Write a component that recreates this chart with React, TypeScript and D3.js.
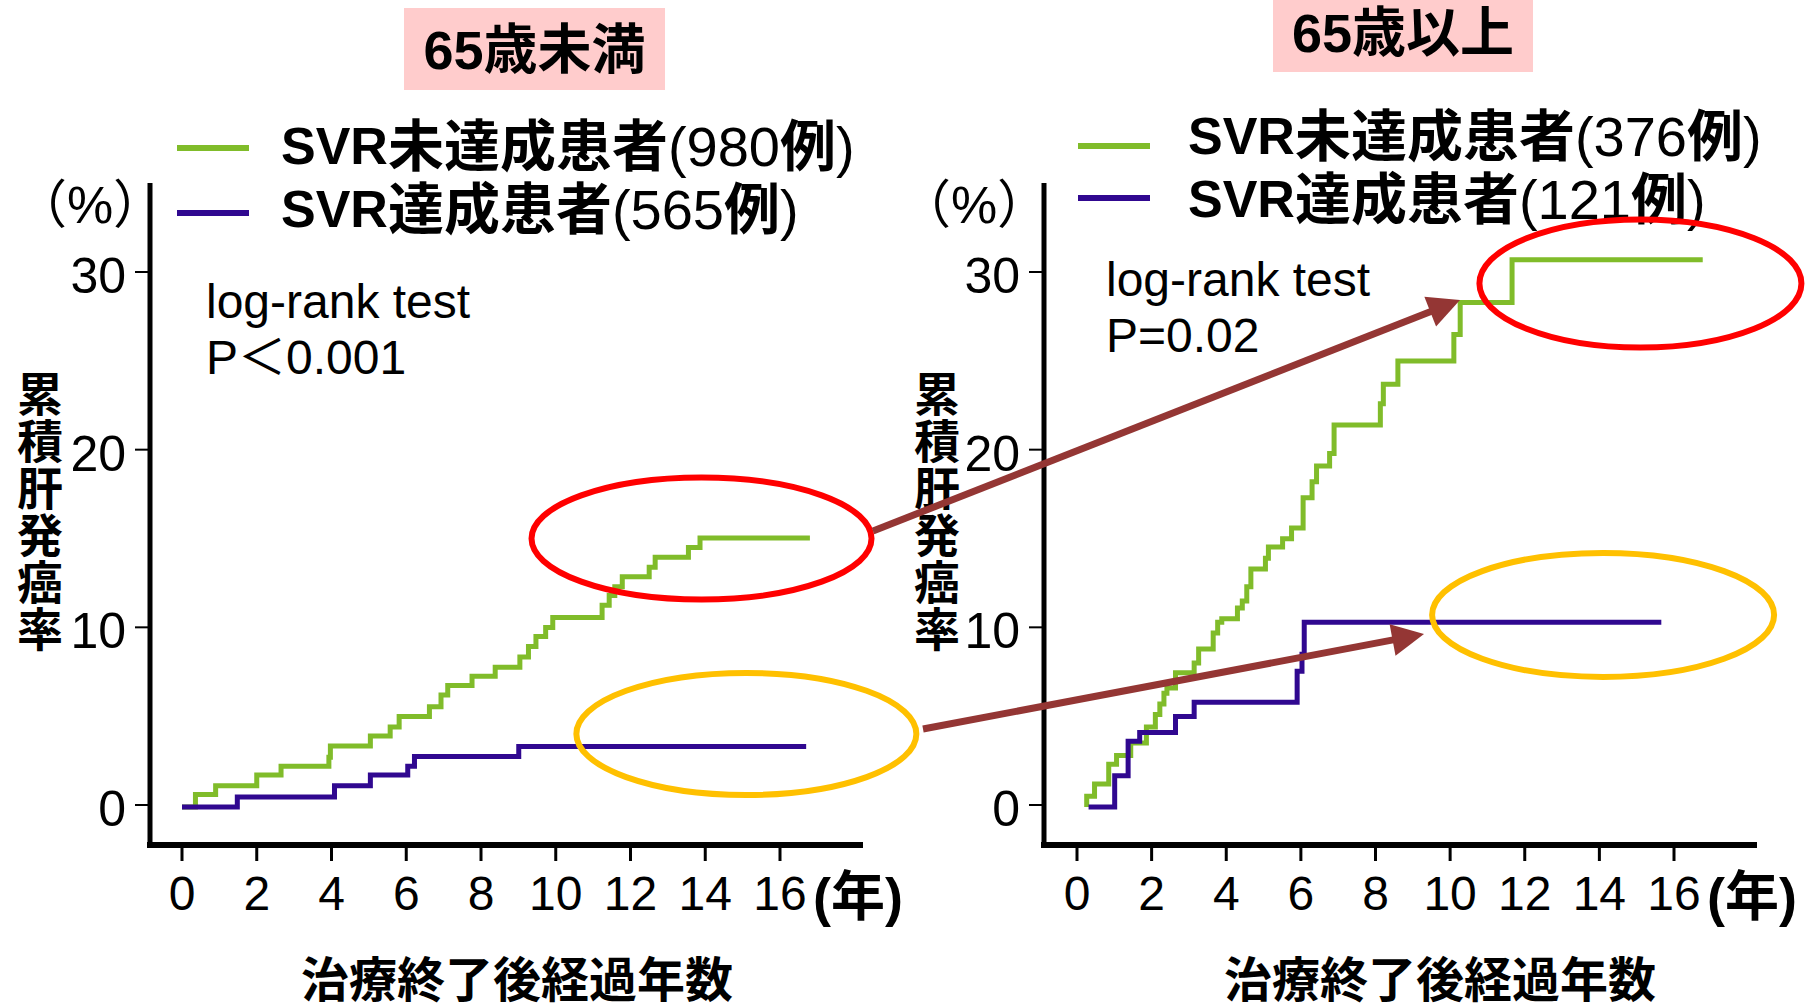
import React from "react";
import * as d3 from "d3";

// ---- data -------------------------------------------------------------
const xTickYears = [0, 2, 4, 6, 8, 10, 12, 14, 16];
const yTickValues = [0, 10, 20, 30];

// cumulative incidence steps: [years after treatment, cumulative %]
const under65NonSvr: [number, number][] = [
  [0, 0], [0.36, 0.7], [0.9, 1.2], [2.0, 1.8], [2.65, 2.3], [3.93, 2.8], [3.97, 3.44],
  [5.04, 4.0], [5.57, 4.5], [5.81, 5.1], [6.62, 5.64], [6.93, 6.3], [7.11, 6.84],
  [7.76, 7.36], [8.38, 7.86], [9.04, 8.44], [9.27, 9.04], [9.47, 9.6], [9.73, 10.1],
  [9.92, 10.66], [11.24, 11.36], [11.43, 11.9], [11.58, 12.4], [11.78, 12.96],
  [12.5, 13.5], [12.66, 14.06], [13.55, 14.6], [13.86, 15.14], [16.8, 15.14],
];
const under65Svr: [number, number][] = [
  [0, 0], [1.48, 0.56], [4.08, 1.2], [5.04, 1.8], [6.04, 2.3], [6.22, 2.84],
  [9.01, 3.4], [16.7, 3.4],
];
const over65NonSvr: [number, number][] = [
  [0.26, 0], [0.26, 0.6], [0.47, 1.3], [0.85, 2.4], [1.06, 2.9], [1.44, 3.6],
  [1.86, 4.5], [2.1, 5.2], [2.22, 5.8], [2.33, 6.4], [2.41, 6.7], [2.64, 7.56],
  [3.14, 8.1], [3.26, 8.9], [3.65, 9.8], [3.77, 10.4], [3.88, 10.6], [4.3, 11.2],
  [4.43, 11.6], [4.55, 12.4], [4.66, 13.4], [5.05, 14.0], [5.13, 14.64],
  [5.51, 15.1], [5.75, 15.7], [6.06, 17.4], [6.3, 18.3], [6.42, 19.2],
  [6.77, 19.9], [6.89, 21.5], [8.13, 22.7], [8.21, 23.8], [8.6, 25.1],
  [10.1, 26.6], [10.27, 28.4], [11.66, 30.8], [16.77, 30.8],
];
const over65Svr: [number, number][] = [
  [0.31, 0], [1.01, 1.76], [1.37, 3.7], [1.68, 4.2], [2.64, 5.1], [3.14, 5.9],
  [5.9, 7.64], [6.03, 8.6], [6.09, 10.4], [15.66, 10.4],
];

const panelTitles = ["65歳未満", "65歳以上"];
const nonSvrCounts = ["980", "376"];
const svrCounts = ["565", "121"];
const pValues = ["P＜0.001", "P=0.02"];
const yAxisTitle = ["累", "積", "肝", "発", "癌", "率"];
const xAxisTitle = "治療終了後経過年数";

// ---- style ------------------------------------------------------------
const GREEN = "#80BC2A";
const PURPLE = "#300890";
const RED = "#FF0000";
const ORANGE = "#FFC000";
const BROWN = "#943634";
const PINK = "#FFCCCC";
const SANS = "'Liberation Sans', Arial, 'Noto Sans CJK JP', sans-serif";

const W = 1809;
const H = 1006;

type Panel = {
  axisX: number;
  axisEnd: number;
  x0: number;
  x16: number;
  series: [number, number][][];
  title: string;
  titleBox: [number, number, number, number];
  titleCy: number;
  legendX: number;
  legendY: [number, number];
  legendTextY: [number, number];
  legendTextX: number;
  nonSvr: string;
  svr: string;
  p: string;
  testX: number;
  testY: number;
  pctX: number;
  yTitleX: number;
  xTitleX: number;
  redEllipse: [number, number, number, number];
  orangeEllipse: [number, number, number, number];
};

const panels: Panel[] = [
  {
    axisX: 150, axisEnd: 863, x0: 182, x16: 780,
    series: [under65NonSvr, under65Svr],
    title: panelTitles[0], titleBox: [404, 8, 261, 82], titleCy: 50,
    legendX: 177, legendY: [148, 213], legendTextY: [146, 209], legendTextX: 281,
    nonSvr: nonSvrCounts[0], svr: svrCounts[0], p: pValues[0],
    testX: 206, testY: 318, pctX: 90, yTitleX: 40, xTitleX: 517,
    redEllipse: [13.9, 15.0, 170, 61],
    orangeEllipse: [15.1, 4.0, 170, 61],
  },
  {
    axisX: 1044, axisEnd: 1757, x0: 1077, x16: 1674,
    series: [over65NonSvr, over65Svr],
    title: panelTitles[1], titleBox: [1273, 0, 260, 72], titleCy: 33,
    legendX: 1078, legendY: [146, 198], legendTextY: [136, 199], legendTextX: 1188,
    nonSvr: nonSvrCounts[1], svr: svrCounts[1], p: pValues[1],
    testX: 1106, testY: 296, pctX: 974, yTitleX: 937, xTitleX: 1440,
    redEllipse: [15.1, 29.35, 161, 64],
    orangeEllipse: [14.1, 10.7, 171, 62],
  },
];

const yScale = d3.scaleLinear().domain([0, 30]).range([805, 272]);
const AXIS_Y = 845;
const AXIS_TOP = 183;

function Arrow({ from, to }: { from: [number, number]; to: [number, number] }) {
  const [x1, y1] = from;
  const [x2, y2] = to;
  const ang = Math.atan2(y2 - y1, x2 - x1);
  const headLen = 32;
  const headHalf = 16;
  const bx = x2 - headLen * Math.cos(ang);
  const by = y2 - headLen * Math.sin(ang);
  const px = -Math.sin(ang);
  const py = Math.cos(ang);
  const head = [
    [x2, y2],
    [bx + px * headHalf, by + py * headHalf],
    [bx - px * headHalf, by - py * headHalf],
  ];
  return (
    <g>
      <line x1={x1} y1={y1} x2={bx + 2 * Math.cos(ang)} y2={by + 2 * Math.sin(ang)} stroke={BROWN} strokeWidth={7} />
      <polygon points={head.map((p) => p.join(",")).join(" ")} fill={BROWN} />
    </g>
  );
}

function LegendLabel({ x, y, lead, count }: { x: number; y: number; lead: string; count: string }) {
  return (
    <text x={x} y={y} dominantBaseline="central" fontFamily={SANS} fontSize={56}>
      <tspan fontWeight="bold" fontSize={52}>SVR</tspan>
      <tspan fontWeight="bold">{lead}</tspan>
      <tspan>({count}</tspan>
      <tspan fontWeight="bold">例</tspan>
      <tspan>)</tspan>
    </text>
  );
}

function PanelView({ p }: { p: Panel }) {
  const x = d3.scaleLinear().domain([0, 16]).range([p.x0, p.x16]);
  const line = d3
    .line<[number, number]>()
    .x((d) => x(d[0]))
    .y((d) => yScale(d[1]) + 2)
    .curve(d3.curveStepAfter);
  const colors = [GREEN, PURPLE];
  return (
    <g>
      {/* title */}
      <rect x={p.titleBox[0]} y={p.titleBox[1]} width={p.titleBox[2]} height={p.titleBox[3]} fill={PINK} />
      <text
        x={p.titleBox[0] + p.titleBox[2] / 2}
        y={p.titleCy}
        textAnchor="middle"
        dominantBaseline="central"
        fontFamily={SANS}
        fontWeight="bold"
        fontSize={54}
      >
        {p.title}
      </text>

      {/* legend */}
      {[0, 1].map((i) => (
        <line
          key={i}
          x1={p.legendX}
          x2={p.legendX + 72}
          y1={p.legendY[i]}
          y2={p.legendY[i]}
          stroke={colors[i]}
          strokeWidth={6}
        />
      ))}
      <LegendLabel x={p.legendTextX} y={p.legendTextY[0]} lead="未達成患者" count={p.nonSvr} />
      <LegendLabel x={p.legendTextX} y={p.legendTextY[1]} lead="達成患者" count={p.svr} />

      {/* axes */}
      <line x1={p.axisX} x2={p.axisX} y1={AXIS_TOP} y2={AXIS_Y + 3} stroke="#000" strokeWidth={5} />
      <line x1={p.axisX - 3} x2={p.axisEnd} y1={AXIS_Y} y2={AXIS_Y} stroke="#000" strokeWidth={6} />
      {yTickValues.map((v) => (
        <g key={v}>
          <line x1={p.axisX - 15} x2={p.axisX} y1={yScale(v)} y2={yScale(v)} stroke="#000" strokeWidth={2} />
          <text
            x={p.axisX - 24}
            y={yScale(v) + 4}
            textAnchor="end"
            dominantBaseline="central"
            fontFamily={SANS}
            fontSize={50}
          >
            {v}
          </text>
        </g>
      ))}
      {xTickYears.map((t) => (
        <g key={t}>
          <line x1={x(t)} x2={x(t)} y1={AXIS_Y} y2={AXIS_Y + 16} stroke="#000" strokeWidth={3} />
          <text
            x={x(t)}
            y={893}
            textAnchor="middle"
            dominantBaseline="central"
            fontFamily={SANS}
            fontSize={48}
          >
            {t}
          </text>
        </g>
      ))}
      <text x={x(16) + 33} y={897} dominantBaseline="central" fontFamily={SANS} fontWeight="bold" fontSize={54}>
        (年)
      </text>
      <text x={p.pctX} y={205} textAnchor="middle" dominantBaseline="central" fontFamily={SANS} fontSize={52}>
        （%）
      </text>
      {yAxisTitle.map((c, i) => (
        <text
          key={c}
          x={p.yTitleX}
          y={395 + i * 47}
          textAnchor="middle"
          dominantBaseline="central"
          fontFamily={SANS}
          fontWeight="bold"
          fontSize={46}
        >
          {c}
        </text>
      ))}
      <text
        x={p.xTitleX}
        y={980}
        textAnchor="middle"
        dominantBaseline="central"
        fontFamily={SANS}
        fontWeight="bold"
        fontSize={48}
      >
        {xAxisTitle}
      </text>

      {/* test annotation */}
      <text x={p.testX} y={p.testY} fontFamily={SANS} fontSize={48}>
        log-rank test
      </text>
      <text x={p.testX} y={p.testY + 56} fontFamily={SANS} fontSize={48}>
        {p.p}
      </text>

      {/* curves */}
      {p.series.map((s, i) => (
        <path key={i} d={line(s) ?? ""} fill="none" stroke={colors[i]} strokeWidth={5} />
      ))}

      {/* highlight ellipses */}
      <ellipse
        cx={x(p.redEllipse[0])}
        cy={yScale(p.redEllipse[1])}
        rx={p.redEllipse[2]}
        ry={p.redEllipse[3]}
        fill="none"
        stroke={RED}
        strokeWidth={6}
      />
      <ellipse
        cx={x(p.orangeEllipse[0])}
        cy={yScale(p.orangeEllipse[1])}
        rx={p.orangeEllipse[2]}
        ry={p.orangeEllipse[3]}
        fill="none"
        stroke={ORANGE}
        strokeWidth={6}
      />
    </g>
  );
}

export default function App() {
  return (
    <svg
      width={W}
      height={H}
      viewBox={`0 0 ${W} ${H}`}
      style={{ position: "absolute", left: 0, top: 0, background: "#fff" }}
    >
      <rect width={W} height={H} fill="#fff" />
      {panels.map((p, i) => (
        <PanelView key={i} p={p} />
      ))}
      <Arrow from={[873, 531]} to={[1460, 300]} />
      <Arrow from={[923, 729]} to={[1424, 634]} />
    </svg>
  );
}
